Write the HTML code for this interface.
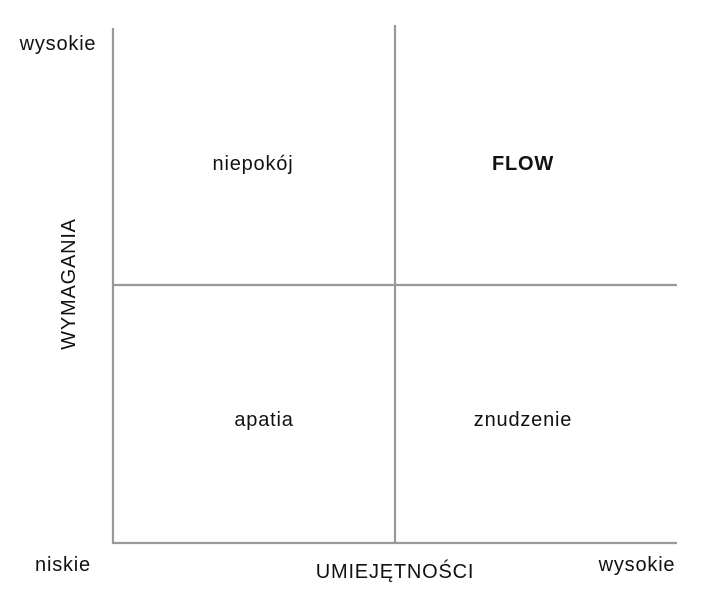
<!DOCTYPE html>
<html><head><meta charset="utf-8"><style>
html,body{margin:0;padding:0;background:#fff;}
svg{display:block;}
text{font-family:"Liberation Sans",sans-serif;fill:#111;font-size:20px;letter-spacing:0.8px;}
</style></head><body>
<svg width="707" height="601" viewBox="0 0 707 601">
<g stroke="#999" stroke-width="2.2" fill="none">
<line x1="113" y1="28" x2="113" y2="544"/>
<line x1="112" y1="543" x2="677" y2="543"/>
<line x1="395" y1="25" x2="395" y2="544"/>
<line x1="112" y1="285" x2="677" y2="285"/>
</g>
<text x="58" y="50" text-anchor="middle">wysokie</text>
<text x="63" y="571" text-anchor="middle">niskie</text>
<text x="637" y="571" text-anchor="middle">wysokie</text>
<text x="395" y="578" text-anchor="middle">UMIEJĘTNOŚCI</text>
<text x="0" y="0" text-anchor="middle" transform="translate(75,284) rotate(-90)">WYMAGANIA</text>
<text x="253" y="170" text-anchor="middle">niepokój</text>
<text x="523" y="170" font-weight="bold" text-anchor="middle">FLOW</text>
<text x="264" y="426" text-anchor="middle">apatia</text>
<text x="523" y="426" text-anchor="middle">znudzenie</text>
</svg>
</body></html>
